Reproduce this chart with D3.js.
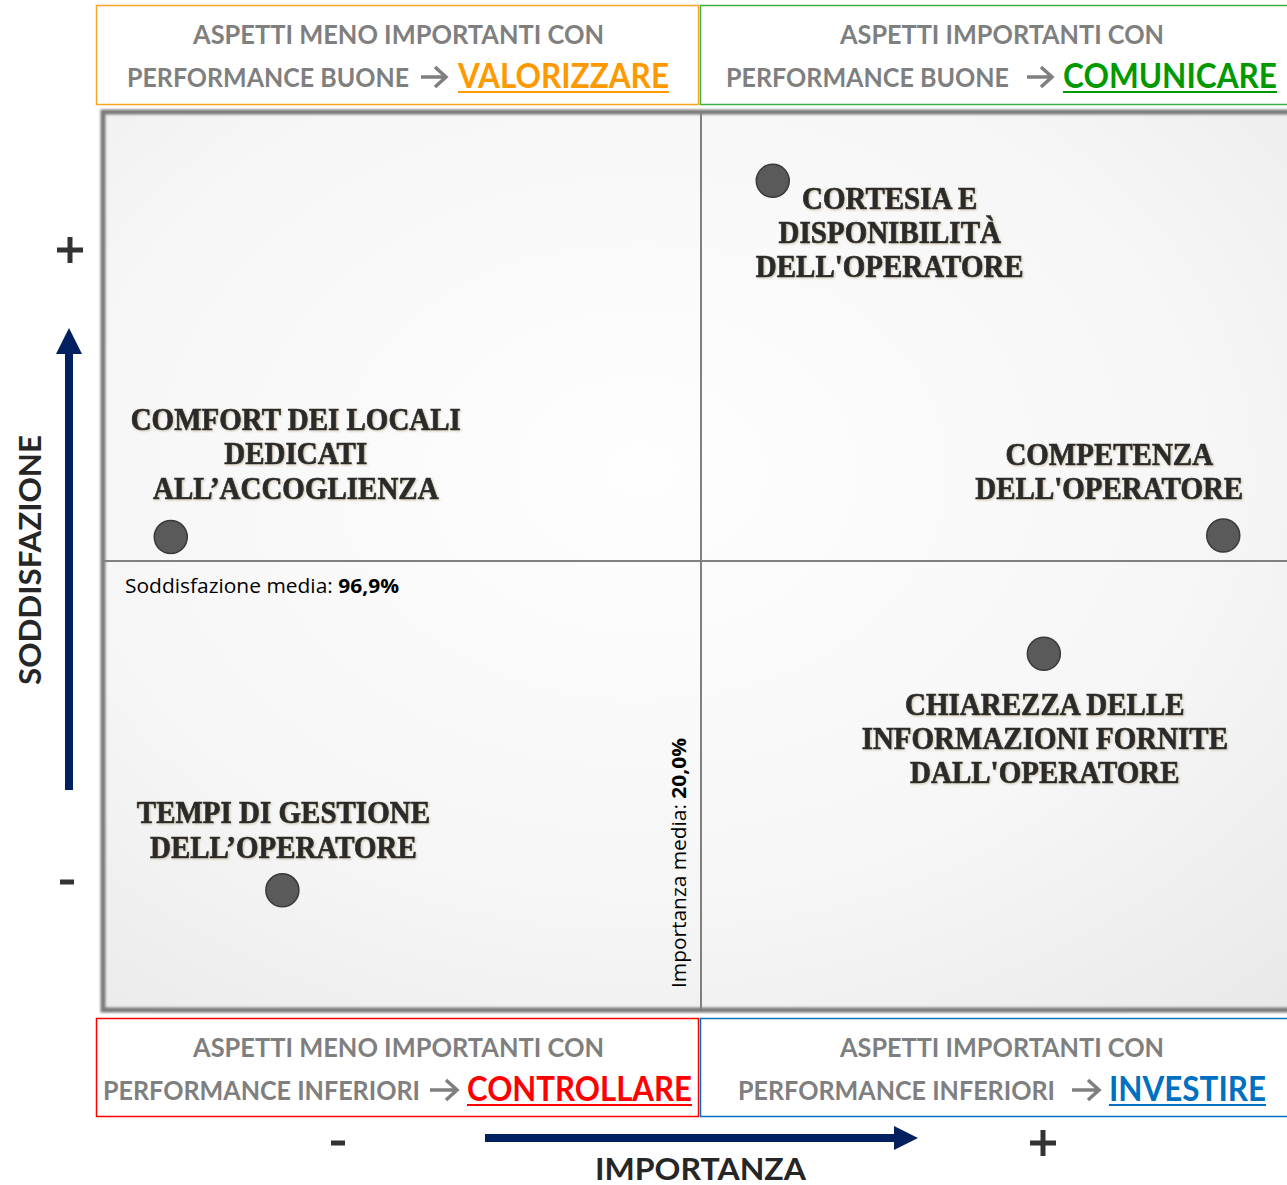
<!DOCTYPE html>
<html><head><meta charset="utf-8">
<script src="https://cdn.jsdelivr.net/npm/d3@7"></script>
<style>
html,body{margin:0;padding:0;background:#fff;}
svg{display:block;}
</style></head>
<body>
<svg id="chart" width="1287" height="1185"></svg>
<script>
// ---------- DATA ----------
const aspects = ["CORTESIA E DISPONIBILITÀ DELL'OPERATORE","COMFORT DEI LOCALI DEDICATI ALL’ACCOGLIENZA","COMPETENZA DELL'OPERATORE","CHIAREZZA DELLE INFORMAZIONI FORNITE DALL'OPERATORE","TEMPI DI GESTIONE DELL’OPERATORE"];
const labelLines = [
  ["CORTESIA E","DISPONIBILITÀ","DELL'OPERATORE"],
  ["COMFORT DEI LOCALI","DEDICATI","ALL’ACCOGLIENZA"],
  ["COMPETENZA","DELL'OPERATORE"],
  ["CHIAREZZA DELLE","INFORMAZIONI FORNITE","DALL'OPERATORE"],
  ["TEMPI DI GESTIONE","DELL’OPERATORE"]
];
const importance   = [21.8, 6.7, 33.1, 28.6, 9.5];     // %
const satisfaction = [99.44, 97.06, 97.07, 96.28, 94.70]; // %
const meanImportance = 20.0;
const meanSatisfaction = 96.9;
const quadrantTitles = [
  {line1:"ASPETTI MENO IMPORTANTI CON", line2:"PERFORMANCE BUONE", action:"VALORIZZARE"},
  {line1:"ASPETTI IMPORTANTI CON", line2:"PERFORMANCE BUONE", action:"COMUNICARE"},
  {line1:"ASPETTI MENO IMPORTANTI CON", line2:"PERFORMANCE INFERIORI", action:"CONTROLLARE"},
  {line1:"ASPETTI IMPORTANTI CON", line2:"PERFORMANCE INFERIORI", action:"INVESTIRE"}
];
const xAxisTitle = "IMPORTANZA";
const yAxisTitle = "SODDISFAZIONE";

// ---------- LAYOUT ----------
const svg = d3.select("#chart");
const plot = {x0:103, x1:1299, y0:112, y1:1010};
const x = d3.scaleLinear().domain([5,35]).range([plot.x0, plot.x1]);
const y = d3.scaleLinear().domain([93.9,99.9]).range([plot.y1, plot.y0]);

// label offsets (dx of centre, dy of first baseline) relative to point
const labelOffsets = [[117,28],[125,-107],[-114,-71],[1,61],[1,-67]];
const lineGap = 34.3;

const defs = svg.append("defs");
const rg = defs.append("radialGradient").attr("id","bg").attr("cx","45%").attr("cy","40%").attr("r","80%");
rg.append("stop").attr("offset","0%").attr("stop-color","#fefefe");
rg.append("stop").attr("offset","60%").attr("stop-color","#f6f6f6");
rg.append("stop").attr("offset","100%").attr("stop-color","#e9e9e9");
const sh = defs.append("filter").attr("id","blur1").attr("x","-5%").attr("y","-5%").attr("width","110%").attr("height","110%");
sh.append("feGaussianBlur").attr("stdDeviation",0.8);
const tsh = defs.append("filter").attr("id","tshadow").attr("x","-5%").attr("y","-20%").attr("width","110%").attr("height","140%");
tsh.append("feDropShadow").attr("dx",1).attr("dy",1).attr("stdDeviation",0.8).attr("flood-color","#b0a080").attr("flood-opacity",0.6);

// plot background
svg.append("rect").attr("x",plot.x0).attr("y",plot.y0).attr("width",1300-plot.x0).attr("height",plot.y1-plot.y0)
  .attr("fill","url(#bg)");
// frame
svg.append("rect").attr("x",plot.x0).attr("y",plot.y0).attr("width",1300-plot.x0).attr("height",plot.y1-plot.y0)
  .attr("fill","none").attr("stroke","#7a7a7a").attr("stroke-width",5).attr("filter","url(#blur1)");

// mean lines
svg.append("line").attr("x1",x(meanImportance)).attr("x2",x(meanImportance)).attr("y1",plot.y0).attr("y2",plot.y1)
  .attr("stroke","#808080").attr("stroke-width",2);
svg.append("line").attr("x1",plot.x0).attr("x2",1300).attr("y1",y(meanSatisfaction)).attr("y2",y(meanSatisfaction))
  .attr("stroke","#808080").attr("stroke-width",2);

// mean labels
const sm = svg.append("text").attr("x",125).attr("y",593).attr("font-family","'Open Sans', sans-serif")
  .attr("font-size",20).attr("fill","#000").attr("textLength",274).attr("lengthAdjust","spacingAndGlyphs");
sm.append("tspan").text("Soddisfazione media: ");
sm.append("tspan").attr("font-weight","bold").text(d3.format(".1f")(meanSatisfaction).replace(".",",")+"%");
const im = svg.append("text").attr("transform",`translate(686,988) rotate(-90)`).attr("font-family","'Open Sans', sans-serif")
  .attr("font-size",20).attr("fill","#000").attr("textLength",250).attr("lengthAdjust","spacingAndGlyphs");
im.append("tspan").text("Importanza media: ");
im.append("tspan").attr("font-weight","bold").text(d3.format(".1f")(meanImportance).replace(".",",")+"%");

// points
const pts = aspects.map((a,i)=>({name:a, lines:labelLines[i], imp:importance[i], sat:satisfaction[i], off:labelOffsets[i]}));
svg.append("g").selectAll("circle").data(pts).join("circle")
  .attr("cx",d=>x(d.imp)).attr("cy",d=>y(d.sat)).attr("r",16.5)
  .attr("fill","#5a5a5a").attr("stroke","#3a3a3a").attr("stroke-width",1.5);

// labels
const lg = svg.append("g").attr("font-family","'Liberation Serif', 'Times New Roman', serif").attr("font-weight","bold")
  .attr("font-size",31).attr("fill","#2a2a2a").attr("stroke","#2a2a2a").attr("stroke-width",0.7)
  .attr("text-anchor","middle").attr("filter","url(#tshadow)");
const labelTexts = [];
pts.forEach(d=>{
  d.lines.forEach((ln,j)=>{
    const t = lg.append("text").attr("x",x(d.imp)+d.off[0]).attr("y",y(d.sat)+d.off[1]+j*lineGap).text(ln);
    labelTexts.push(t);
  });
});
// condense serif labels to match narrow face
labelTexts.forEach(t=>{
  const w = t.node().getComputedTextLength();
  t.attr("textLength",w*0.935).attr("lengthAdjust","spacingAndGlyphs");
});

// quadrant title boxes
const boxes = [
  {x:96, y:5, w:602, h:99, color:"#f5a623", action:"#ff9900", l1:[193,604], l2:[127,409], arr:[421,447], act:[458,669], b1:44, b2:87},
  {x:700, y:5, w:600, h:99, color:"#3cb043", action:"#009a00", l1:[840,1164], l2:[726,1009], arr:[1027,1053], act:[1063,1277], b1:44, b2:87},
  {x:96, y:1018, w:602, h:98, color:"#ff0000", action:"#ff0000", l1:[193,604], l2:[103,420], arr:[430,458], act:[467,692], b1:1057, b2:1100},
  {x:700, y:1018, w:600, h:98, color:"#0070c0", action:"#0070c0", l1:[840,1164], l2:[738,1055], arr:[1072,1100], act:[1109,1266], b1:1057, b2:1100}
];
const sans = "Lato, 'Open Sans', sans-serif";
boxes.forEach((b,i)=>{
  const q = quadrantTitles[i];
  svg.append("rect").attr("x",b.x+0.5).attr("y",b.y+0.5).attr("width",b.w).attr("height",b.h)
    .attr("fill","#fff").attr("stroke",b.color).attr("stroke-width",1.5);
  svg.append("text").attr("x",b.l1[0]).attr("y",b.b1).attr("font-family",sans).attr("font-weight","bold")
    .attr("font-size",27).attr("fill","#7f7f7f").attr("textLength",b.l1[1]-b.l1[0]).attr("lengthAdjust","spacingAndGlyphs").text(q.line1);
  svg.append("text").attr("x",b.l2[0]).attr("y",b.b2).attr("font-family",sans).attr("font-weight","bold")
    .attr("font-size",27).attr("fill","#7f7f7f").attr("textLength",b.l2[1]-b.l2[0]).attr("lengthAdjust","spacingAndGlyphs").text(q.line2);
  // arrow glyph
  const ax0=b.arr[0], ax1=b.arr[1], ay=b.b2-10;
  svg.append("path").attr("d",`M${ax0},${ay}H${ax1-2}M${ax1-12},${ay-10}L${ax1-1},${ay}L${ax1-12},${ay+10}`)
    .attr("fill","none").attr("stroke","#7f7f7f").attr("stroke-width",3.5);
  svg.append("text").attr("x",b.act[0]).attr("y",b.b2+1).attr("font-family",sans).attr("font-weight","bold")
    .attr("font-size",34).attr("fill",b.action).attr("textLength",b.act[1]-b.act[0]).attr("lengthAdjust","spacingAndGlyphs").text(q.action);
  svg.append("line").attr("x1",b.act[0]).attr("x2",b.act[1]).attr("y1",b.b2+5).attr("y2",b.b2+5)
    .attr("stroke",b.action).attr("stroke-width",2.2);
});

// axis arrows
const navy = "#002060";
svg.append("rect").attr("x",65).attr("y",350).attr("width",8).attr("height",440).attr("fill",navy);
svg.append("path").attr("d","M69,328L82,354L56,354Z").attr("fill",navy);
svg.append("rect").attr("x",485).attr("y",1134).attr("width",412).attr("height",8).attr("fill",navy);
svg.append("path").attr("d","M918,1138L894,1126L894,1150Z").attr("fill",navy);

// plus / minus marks
const mark = (cx,cy,plus)=>{
  const g = svg.append("g").attr("fill","#333");
  if(plus){
    g.append("rect").attr("x",cx-13).attr("y",cy-2.5).attr("width",26).attr("height",5);
    g.append("rect").attr("x",cx-2.5).attr("y",cy-13).attr("width",5).attr("height",26);
  } else {
    g.append("rect").attr("x",cx-7).attr("y",cy-2.5).attr("width",14).attr("height",5);
  }
};
mark(70,250,true); mark(67,882,false);
mark(338,1143,false); mark(1043,1143,true);

// axis titles
svg.append("text").attr("x",595).attr("y",1180).attr("font-family",sans).attr("font-weight","bold")
  .attr("font-size",30).attr("fill","#262626").attr("textLength",211).attr("lengthAdjust","spacingAndGlyphs").text(xAxisTitle);
svg.append("text").attr("transform","translate(41,685) rotate(-90)").attr("font-family",sans).attr("font-weight","bold")
  .attr("font-size",31).attr("fill","#262626").attr("textLength",250).attr("lengthAdjust","spacingAndGlyphs").text(yAxisTitle);
</script>
</body></html>
